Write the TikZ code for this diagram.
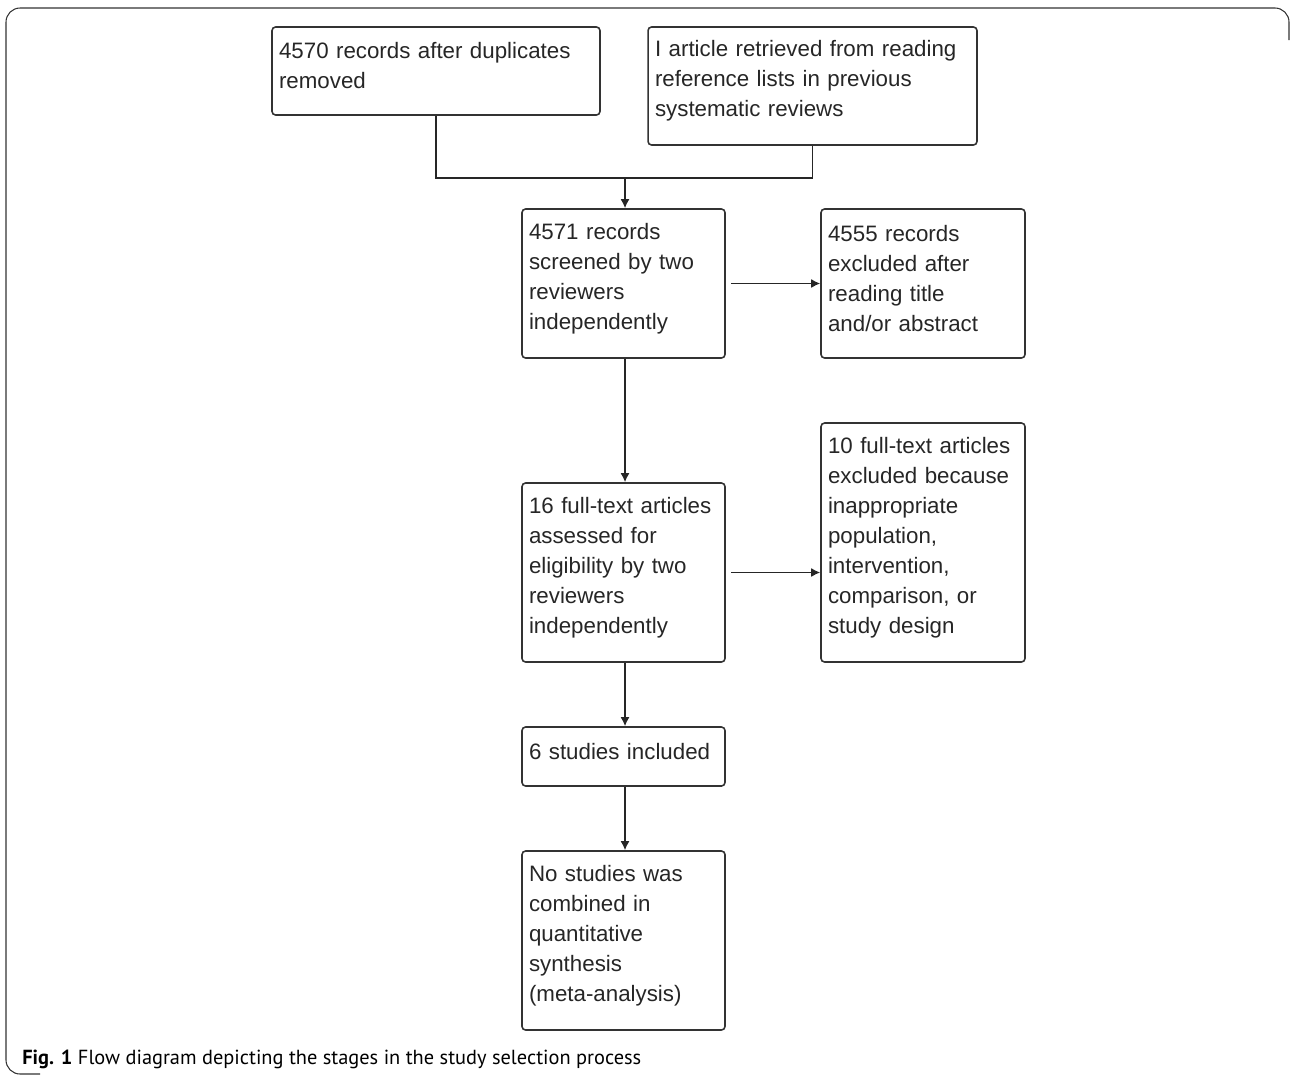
\documentclass[tikz,border=0pt]{standalone}
\usepackage{fontspec}
\setmainfont{Liberation Sans}
\newfontfamily\capfont{PT Sans}
\usetikzlibrary{arrows.meta}

\begin{document}
\begin{tikzpicture}[x=0.02cm,y=-0.02cm,
  box/.style={draw=black!80,line width=0.9pt,rounded corners=2pt,align=left,
    inner xsep=0.14cm,inner ysep=0pt,text=black!85,
    execute at end node={\endgraf\kern0.2cm},
    font=\fontsize{12.7}{17.07}\selectfont},
  flow/.style={draw=black!85,line width=0.9pt,-{Latex[length=0.18cm,width=0.18cm]}}]
\useasboundingbox (0,0) rectangle (1290,1075);
% outer frame
\draw[black!80,line width=0.6pt,rounded corners=8pt] (40,1074) -- (6,1074) -- (6,8) -- (1289,8) -- (1289,40);
\node[box,text width=6.28cm,minimum height=1.76cm] (a) at (436,71) {4570 records after duplicates\\removed};
\node[box,text width=6.30cm,minimum height=2.36cm] (b) at (812.5,86) {I article retrieved from reading\\reference lists in previous\\systematic reviews};
\node[box,text width=3.78cm,minimum height=2.98cm] (c) at (623.5,283.5) {4571 records\\screened by two\\reviewers\\independently};
\node[box,text width=3.80cm,minimum height=2.98cm] (d) at (923,283.5) {4555 records\\excluded after\\reading title\\and/or abstract};
\node[box,text width=3.78cm,minimum height=3.58cm] (e) at (623.5,572.5) {16 full-text articles\\assessed for\\eligibility by two\\reviewers\\independently};
\node[box,text width=3.80cm,minimum height=4.78cm] (f) at (923,542.5) {10 full-text articles\\excluded because\\inappropriate\\population,\\intervention,\\comparison, or\\study design};
\node[box,text width=3.78cm,minimum height=1.18cm] (g) at (623.5,756.5) {6 studies included};
\node[box,text width=3.78cm,minimum height=3.58cm] (h) at (623.5,940.5) {No studies was\\combined in\\quantitative\\synthesis\\(meta-analysis)};
\coordinate (m) at (625,178);
\draw[draw=black!85,line width=0.9pt] (a.south) |- (m);
\draw[draw=black!85,line width=0.9pt] (b.south) |- (m);
\draw[flow] (m) -- (m |- c.north);
\draw[flow,shorten <=3pt] (c) -- (d);
\draw[flow] (m |- c.south) -- (m |- e.north);
\draw[flow,shorten <=3pt] (e.east) -- (e.east -| f.west);
\draw[flow] (m |- e.south) -- (m |- g.north);
\draw[flow] (m |- g.south) -- (m |- h.north);
\node[anchor=base west,inner sep=0pt,font=\capfont\fontsize{11.6}{13}\selectfont] (cap) at (22,1064) {\textbf{Fig. 1} Flow diagram depicting the stages in the study selection process};
\end{tikzpicture}
\end{document}
